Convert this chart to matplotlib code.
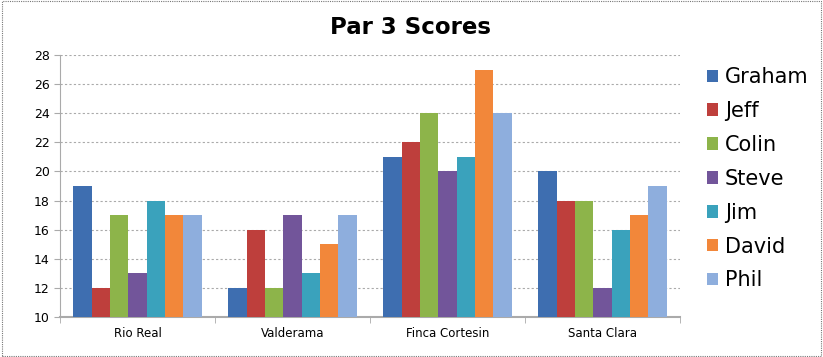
import numpy as np
import matplotlib
matplotlib.use("Agg")
import matplotlib.pyplot as plt
from matplotlib.patches import Rectangle

courses = ["Rio Real", "Valderama", "Finca Cortesin", "Santa Clara"]
players = ["Graham", "Jeff", "Colin", "Steve", "Jim", "David", "Phil"]

graham = [19, 12, 21, 20]
jeff = [12, 16, 22, 18]
colin = [17, 12, 24, 18]
steve = [13, 17, 20, 12]
jim = [18, 13, 21, 16]
david = [17, 15, 27, 17]
phil = [17, 17, 24, 19]

scores = [graham, jeff, colin, steve, jim, david, phil]
colors = ["#3E6EB0", "#BE3F3C", "#8DB44A", "#72559A", "#3AA2BC", "#F2873A", "#8EAEDD"]

fig = plt.figure(figsize=(8.23, 3.57), dpi=100)
ax = fig.add_axes([60 / 823, 1 - 317 / 357, 620 / 823, 262 / 357])

n = len(players)
group_w = 0.83
bar_w = group_w / n
x = np.arange(len(courses))

for i, (name, vals) in enumerate(zip(players, scores)):
    pos = x - group_w / 2 + bar_w * (i + 0.5)
    ax.bar(pos, np.array(vals) - 10, bottom=10, width=bar_w, color=colors[i],
           label=name, zorder=3)

ax.set_ylim(10, 28)
ax.set_yticks(range(10, 29, 2))
ax.set_xlim(-0.5, len(courses) - 0.5)
ax.set_xticks(x)
ax.set_xticklabels(courses)
ax.set_xticks(np.arange(-0.5, len(courses)), minor=True)
ax.tick_params(axis="x", which="major", length=0, labelsize=8.5, pad=7)
ax.tick_params(axis="x", which="minor", length=4, color="#aaaaaa")
ax.tick_params(axis="y", length=4, color="#aaaaaa", labelsize=9)

ax.grid(axis="y", linestyle=(0, (2, 2)), color="#aaaaaa", linewidth=0.8, zorder=0)
for side in ["top", "right"]:
    ax.spines[side].set_visible(False)
ax.spines["left"].set_color("#aaaaaa")
ax.spines["bottom"].set_color("#aaaaaa")
ax.spines["bottom"].set_linewidth(1.5)

fig.text(411 / 823, 1 - 27 / 357, "Par 3 Scores", ha="center", va="center",
         fontsize=16.5, fontweight="bold")

leg = ax.legend(loc="upper left", bbox_to_anchor=(1.03, 0.985), frameon=False,
                fontsize=15, handlelength=0.55, handleheight=0.55,
                handletextpad=0.3, labelspacing=0.665, borderaxespad=0)

fig.patches.append(Rectangle((0.002, 0.003), 0.995, 0.993, transform=fig.transFigure,
                             fill=False, edgecolor="#777777", linestyle=(0, (1, 1)),
                             linewidth=0.8))

fig.savefig("out.png", dpi=100)
